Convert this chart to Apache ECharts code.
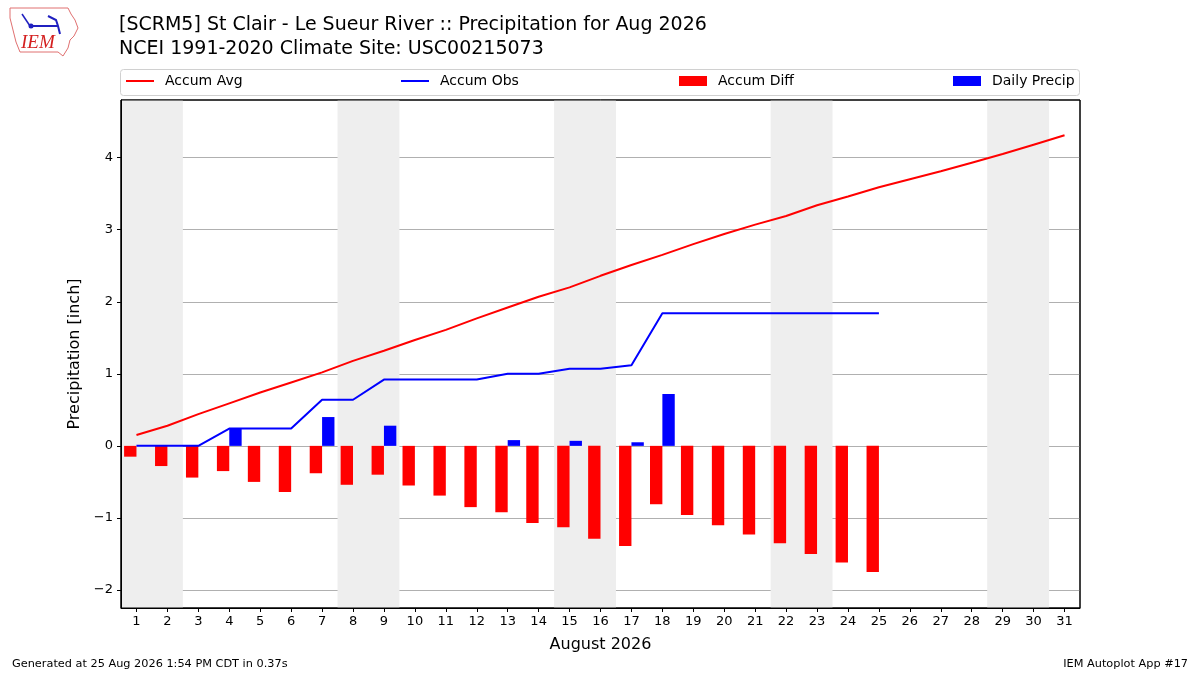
<!DOCTYPE html>
<html>
<head>
<meta charset="utf-8">
<script src="https://cdn.jsdelivr.net/npm/echarts@6/dist/echarts.min.js"></script>
<style>
  html, body { margin: 0; padding: 0; background: #fff; }
  #chart { width: 1200px; height: 675px; }
</style>
</head>
<body>
<div id="chart"></div>
<script>
// data (inches)
const days = [1, 2, 3, 4, 5, 6, 7, 8, 9, 10, 11, 12, 13, 14, 15, 16, 17, 18, 19, 20, 21, 22, 23, 24, 25, 26, 27, 28, 29, 30, 31];
const accumAvg = [0.15, 0.28, 0.44, 0.59, 0.74, 0.88, 1.02, 1.18, 1.32, 1.47, 1.61, 1.77, 1.92, 2.07, 2.20, 2.36, 2.51, 2.65, 2.80, 2.94, 3.07, 3.19, 3.34, 3.46, 3.59, 3.70, 3.81, 3.93, 4.05, 4.18, 4.31];
const accumObs = [0, 0, 0, 0.24, 0.24, 0.24, 0.64, 0.64, 0.92, 0.92, 0.92, 0.92, 1.00, 1.00, 1.07, 1.07, 1.12, 1.84, 1.84, 1.84, 1.84, 1.84, 1.84, 1.84, 1.84];
const accumDiff = [-0.15, -0.28, -0.44, -0.35, -0.50, -0.64, -0.38, -0.54, -0.40, -0.55, -0.69, -0.85, -0.92, -1.07, -1.13, -1.29, -1.39, -0.81, -0.96, -1.10, -1.23, -1.35, -1.50, -1.62, -1.75];
const dailyPrecip = [0, 0, 0, 0.24, 0, 0, 0.40, 0, 0.28, 0, 0, 0, 0.08, 0, 0.07, 0, 0.05, 0.72, 0, 0, 0, 0, 0, 0, 0];
const weekends = [[0.5, 2.5], [7.5, 9.5], [14.5, 16.5], [21.5, 23.5], [28.5, 30.5]];

const FONT = "DejaVu Sans";

document.addEventListener("DOMContentLoaded", function () {
  let chart = echarts.init(document.getElementById("chart"), null, { renderer: "canvas" });

  function pairs(vals) {
    return vals.map((v, i) => [days[i], v]);
  }

  // one legend per entry so they sit where matplotlib's expanded legend puts them
  function legendAt(left, name, color, isLine) {
    return {
      left: left,
      top: 74,
      padding: 0,
      itemWidth: 28,
      itemHeight: isLine ? 2 : 10,
      data: [{ name: name, icon: "rect", itemStyle: { color: color } }],
      selectedMode: false,
      textStyle: { fontFamily: FONT, fontSize: 14, color: "#000", padding: [0, 0, 0, 6] },
    };
  }

  let option = {
    animation: false,
    backgroundColor: "#fff",
    title: [
      {
        text: "[SCRM5] St Clair - Le Sueur River :: Precipitation for Aug 2026\nNCEI 1991-2020 Climate Site: USC00215073",
        left: 119,
        top: 13,
        padding: 0,
        textStyle: { fontFamily: FONT, fontSize: 19, fontWeight: "normal", color: "#000", lineHeight: 24 },
      },
    ],
    legend: [
      legendAt(126, "Accum Avg", "#ff0000", true),
      legendAt(401, "Accum Obs", "#0000ff", true),
      legendAt(679, "Accum Diff", "#ff0000", false),
      legendAt(953, "Daily Precip", "#0000ff", false),
    ],
    grid: {
      left: 121,
      right: 120,
      top: 100,
      bottom: 67,
      show: true,
      borderColor: "#000",
      borderWidth: 1,
      backgroundColor: "transparent",
    },
    xAxis: {
      type: "value",
      min: 0.5,
      max: 31.5,
      splitNumber: 31,
      z: 2,
      name: "August 2026",
      nameLocation: "middle",
      nameGap: 29,
      nameTextStyle: { fontFamily: FONT, fontSize: 16, color: "#000" },
      axisLine: { onZero: false, lineStyle: { color: "#000" } },
      axisTick: { length: 4, lineStyle: { color: "#000" } },
      axisLabel: {
        fontFamily: FONT,
        fontSize: 13,
        color: "#000",
        margin: 7,
        showMinLabel: false,
        showMaxLabel: false,
        formatter: (v) => (Number.isInteger(v) ? String(v) : ""),
      },
      splitLine: { show: false },
    },
    yAxis: {
      type: "value",
      min: -2.25,
      max: 4.8,
      splitNumber: 7,
      z: 1,
      name: "Precipitation [inch]",
      nameLocation: "middle",
      nameGap: 38,
      nameTextStyle: { fontFamily: FONT, fontSize: 16, color: "#000" },
      axisLine: { show: true, onZero: false, lineStyle: { color: "#000" } },
      axisTick: { show: true, length: 4, lineStyle: { color: "#000" } },
      axisLabel: {
        fontFamily: FONT,
        fontSize: 13,
        color: "#000",
        margin: 8,
        showMinLabel: false,
        showMaxLabel: false,
        formatter: (v) => (Number.isInteger(v) ? String(v).replace("-", "\u2212") : ""),
      },
      splitLine: {
        show: true,
        showMinLine: false,
        showMaxLine: false,
        lineStyle: { color: "#b0b0b0", width: 1 },
      },
    },
    series: [
      {
        name: "weekend",
        type: "line",
        data: [],
        z: 0,
        silent: true,
        markArea: {
          silent: true,
          itemStyle: { color: "#eeeeee" },
          data: weekends.map(([a, b]) => [{ xAxis: a }, { xAxis: b }]),
        },
      },
      {
        name: "Accum Diff",
        type: "bar",
        data: pairs(accumDiff),
        barWidth: "40%",
        barGap: "0%",
        itemStyle: { color: "#ff0000" },
        z: 2,
      },
      {
        name: "Daily Precip",
        type: "bar",
        data: pairs(dailyPrecip),
        barWidth: "40%",
        barGap: "0%",
        itemStyle: { color: "#0000ff" },
        z: 2,
      },
      {
        name: "Accum Avg",
        type: "line",
        data: pairs(accumAvg),
        symbol: "none",
        lineStyle: { color: "#ff0000", width: 2 },
        itemStyle: { color: "#ff0000" },
        z: 3,
      },
      {
        name: "Accum Obs",
        type: "line",
        data: pairs(accumObs),
        symbol: "none",
        lineStyle: { color: "#0000ff", width: 2 },
        itemStyle: { color: "#0000ff" },
        z: 3,
      },
    ],
    graphic: [
      // legend frame
      {
        type: "rect",
        z: -1,
        shape: { x: 120.5, y: 69.5, width: 959, height: 26, r: 3 },
        style: { fill: "#fff", stroke: "#d0d0d0", lineWidth: 1 },
      },
      // plot frame on top of the shading
      {
        type: "rect",
        z: 10,
        shape: { x: 121, y: 100, width: 959, height: 508 },
        style: { fill: null, stroke: "#000", lineWidth: 1 },
        silent: true,
      },
      // rough IEM logo
      {
        type: "polyline",
        shape: {
          points: [[10, 8], [68, 8], [71, 14], [75, 20], [78, 28], [74, 36], [70, 40], [68, 48], [63, 56], [58, 52], [20, 52], [16, 42], [13, 30], [10, 18], [10, 8]],
        },
        style: { stroke: "#e07070", lineWidth: 1, fill: "#fff" },
      },
      {
        type: "polyline",
        shape: { points: [[30, 26], [58, 26]] },
        style: { stroke: "#2020c0", lineWidth: 2 },
      },
      {
        type: "polyline",
        shape: { points: [[22, 14], [30, 26]] },
        style: { stroke: "#2020c0", lineWidth: 1.5 },
      },
      {
        type: "polyline",
        shape: { points: [[48, 16], [56, 20], [58, 26], [60, 34]] },
        style: { stroke: "#2020c0", lineWidth: 2 },
      },
      {
        type: "circle",
        shape: { cx: 31, cy: 26, r: 2.5 },
        style: { fill: "#2020c0" },
      },
      {
        type: "text",
        left: 21,
        top: 33,
        style: { text: "IEM", font: "italic 19px 'Liberation Serif'", fill: "#d42020" },
      },
      // footer
      {
        type: "text",
        left: 12,
        top: 659,
        style: { text: "Generated at 25 Aug 2026 1:54 PM CDT in 0.37s", font: "11.3px 'DejaVu Sans'", fill: "#000" },
      },
      {
        type: "text",
        right: 12,
        top: 659,
        style: { text: "IEM Autoplot App #17", font: "11.3px 'DejaVu Sans'", fill: "#000" },
      },
    ],
  };
  option && chart.setOption(option);
});
</script>
</body>
</html>
